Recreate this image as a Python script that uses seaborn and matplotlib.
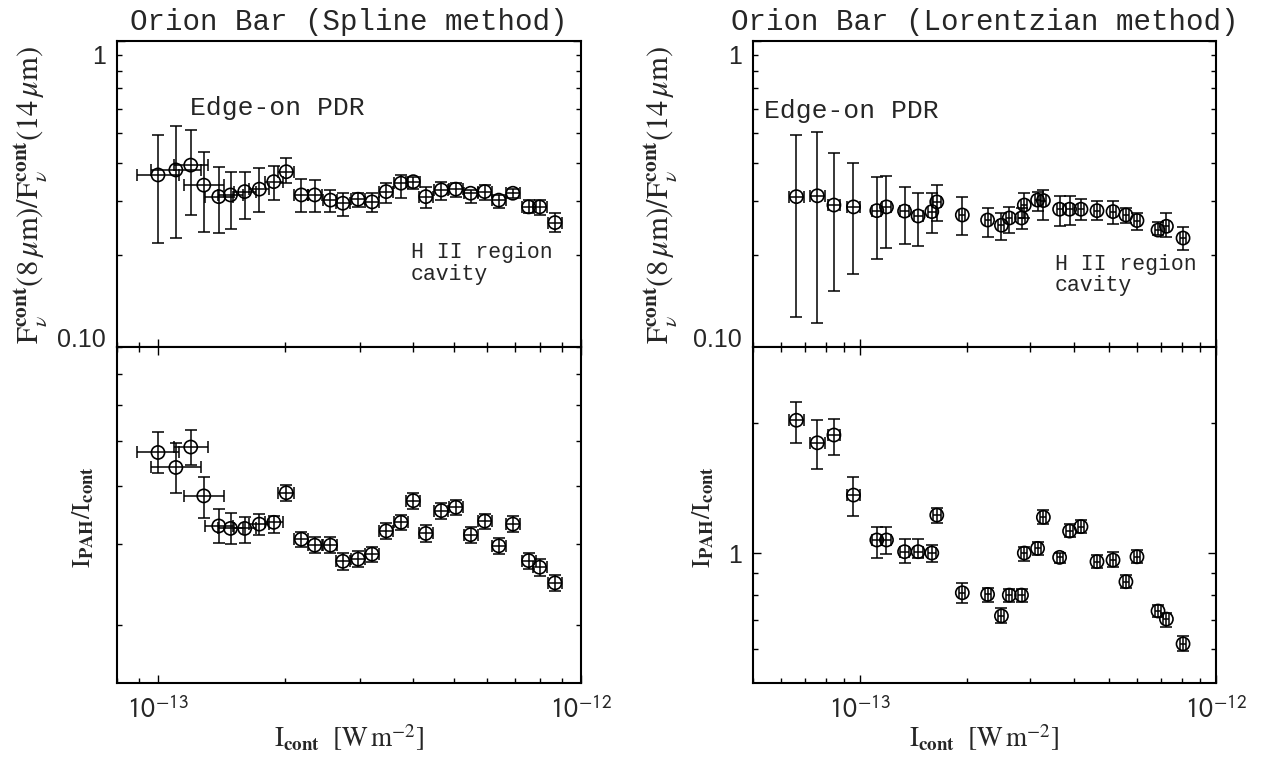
import numpy as np
import matplotlib
matplotlib.use("Agg")
import matplotlib.pyplot as plt
import seaborn as sns
from matplotlib.ticker import FixedLocator, FixedFormatter, NullFormatter
from matplotlib.transforms import ScaledTranslation

# ---------------- data ----------------
# Spline method
spline_icont = [1.000e-13, 1.102e-13, 1.195e-13, 1.283e-13, 1.392e-13, 1.484e-13,
                1.603e-13, 1.736e-13, 1.878e-13, 2.010e-13, 2.182e-13, 2.347e-13,
                2.557e-13, 2.735e-13, 2.971e-13, 3.206e-13, 3.463e-13, 3.754e-13,
                4.013e-13, 4.297e-13, 4.675e-13, 5.058e-13, 5.482e-13, 5.920e-13,
                6.392e-13, 6.900e-13, 7.520e-13, 7.980e-13, 8.680e-13]
spline_xerr_frac = [0.121, 0.146, 0.097, 0.115, 0.079, 0.068, 0.062, 0.056, 0.050, 0.045,
                    0.039, 0.039, 0.039, 0.039, 0.039, 0.039, 0.039, 0.039, 0.039, 0.039,
                    0.039, 0.039, 0.039, 0.039, 0.039, 0.039, 0.039, 0.039, 0.039]
spline_ratio = [0.365, 0.379, 0.393, 0.338, 0.310, 0.314, 0.322, 0.328, 0.347, 0.374,
                0.314, 0.314, 0.302, 0.295, 0.304, 0.298, 0.322, 0.343, 0.347, 0.310,
                0.326, 0.328, 0.318, 0.322, 0.302, 0.318, 0.287, 0.287, 0.255]
spline_ratio_lo = [0.219, 0.227, 0.270, 0.238, 0.236, 0.243, 0.262, 0.276, 0.302, 0.344,
                   0.276, 0.277, 0.277, 0.267, 0.287, 0.277, 0.296, 0.307, 0.328, 0.285,
                   0.302, 0.310, 0.295, 0.302, 0.284, 0.306, 0.274, 0.270, 0.238]
spline_ratio_hi = [0.493, 0.527, 0.511, 0.433, 0.387, 0.372, 0.374, 0.385, 0.391, 0.415,
                   0.354, 0.351, 0.326, 0.319, 0.319, 0.319, 0.344, 0.365, 0.360, 0.334,
                   0.347, 0.343, 0.326, 0.338, 0.314, 0.328, 0.302, 0.302, 0.274]
spline_pah = [4.73, 4.39, 4.86, 3.81, 3.28, 3.24, 3.24, 3.31, 3.34, 3.87,
              3.07, 2.98, 2.98, 2.75, 2.78, 2.85, 3.20, 3.34, 3.72, 3.16,
              3.54, 3.60, 3.14, 3.36, 2.97, 3.31, 2.76, 2.67, 2.47]
spline_pah_lo = [4.26, 3.87, 4.44, 3.41, 3.01, 3.00, 3.01, 3.14, 3.17, 3.72,
                 2.95, 2.86, 2.86, 2.64, 2.67, 2.74, 3.07, 3.21, 3.57, 3.03,
                 3.40, 3.46, 3.01, 3.23, 2.85, 3.18, 2.65, 2.56, 2.37]
spline_pah_hi = [5.25, 4.97, 5.29, 4.19, 3.57, 3.50, 3.43, 3.48, 3.45, 4.02,
                 3.19, 3.10, 3.10, 2.86, 2.89, 2.96, 3.33, 3.47, 3.87, 3.29,
                 3.68, 3.74, 3.27, 3.49, 3.09, 3.44, 2.87, 2.78, 2.57]

# Lorentzian method
lor_icont = [6.62e-14, 7.58e-14, 8.44e-14, 9.58e-14, 1.114e-13, 1.186e-13, 1.333e-13,
             1.455e-13, 1.590e-13, 1.642e-13, 1.937e-13, 2.281e-13, 2.495e-13, 2.625e-13,
             2.841e-13, 2.893e-13, 3.152e-13, 3.273e-13, 3.635e-13, 3.877e-13, 4.174e-13,
             4.630e-13, 5.136e-13, 5.583e-13, 5.997e-13, 6.872e-13, 7.256e-13, 8.080e-13]
lor_xerr_frac = [0.05, 0.05, 0.04, 0.04, 0.03, 0.03, 0.03, 0.03, 0.025, 0.025,
                 0.02, 0.02, 0.02, 0.02, 0.02, 0.02, 0.02, 0.02, 0.02, 0.02,
                 0.02, 0.02, 0.02, 0.02, 0.02, 0.02, 0.02, 0.02]
lor_ratio = [0.310, 0.312, 0.291, 0.287, 0.279, 0.287, 0.278, 0.268, 0.277, 0.298,
             0.270, 0.260, 0.250, 0.264, 0.264, 0.291, 0.302, 0.301, 0.282, 0.282,
             0.282, 0.279, 0.277, 0.270, 0.259, 0.241, 0.248, 0.227]
lor_ratio_lo = [0.125, 0.120, 0.152, 0.173, 0.194, 0.210, 0.217, 0.214, 0.235, 0.258,
                0.232, 0.229, 0.224, 0.236, 0.243, 0.264, 0.279, 0.260, 0.248, 0.250,
                0.260, 0.260, 0.252, 0.254, 0.241, 0.232, 0.229, 0.208]
lor_ratio_hi = [0.493, 0.503, 0.430, 0.398, 0.360, 0.363, 0.334, 0.318, 0.319, 0.338,
                0.310, 0.285, 0.275, 0.286, 0.284, 0.319, 0.322, 0.326, 0.312, 0.312,
                0.305, 0.300, 0.300, 0.285, 0.274, 0.257, 0.275, 0.247]
lor_pah = [2.03, 1.80, 1.876, 1.362, 1.072, 1.072, 1.007, 1.007, 1.000, 1.224,
           0.809, 0.802, 0.715, 0.799, 0.799, 1.000, 1.025, 1.210, 0.977, 1.124,
           1.151, 0.955, 0.963, 0.858, 0.980, 0.734, 0.703, 0.616]
lor_pah_lo = [1.795, 1.563, 1.686, 1.218, 0.972, 0.995, 0.946, 0.972, 0.955, 1.175,
              0.767, 0.771, 0.690, 0.771, 0.771, 0.960, 0.989, 1.167, 0.946, 1.087,
              1.111, 0.922, 0.930, 0.829, 0.946, 0.712, 0.675, 0.594]
lor_pah_hi = [2.24, 2.03, 2.04, 1.497, 1.147, 1.147, 1.076, 1.076, 1.043, 1.269,
              0.851, 0.829, 0.745, 0.824, 0.824, 1.034, 1.062, 1.257, 1.002, 1.167,
              1.192, 0.989, 1.007, 0.889, 1.016, 0.758, 0.727, 0.642]

titles = ["Orion Bar (Spline method)", "Orion Bar (Lorentzian method)"]
x_major = [1e-13, 1e-12]
x_major_labels = [r"$\mathsf{10}^{\mathsf{-13}}$", r"$\mathsf{10}^{\mathsf{-12}}$"]
ratio_major = [0.1, 1.0]
ratio_major_labels = ["0.10", "1"]
ratio_minor = [0.2, 0.3, 0.4, 0.5, 0.6, 0.7, 0.8, 0.9]
spline_pah_minor = [2, 3, 4, 5, 6, 7, 8]
lor_pah_major = [1.0]
lor_pah_major_labels = ["1"]
lor_pah_minor = [0.6, 0.7, 0.8, 0.9, 2.0]

# ---------------- style ----------------
sns.set_theme(style="white")
plt.rcParams["font.family"] = ["Liberation Serif", "DejaVu Serif"]
plt.rcParams["mathtext.fontset"] = "stix"
plt.rcParams["axes.edgecolor"] = "black"
plt.rcParams["axes.linewidth"] = 1.5

W, H = 1261, 759
fig = plt.figure(figsize=(W / 100, H / 100), dpi=100)
fig.patch.set_facecolor("white")


def rect(x0, x1, ytop, ybot):
    return [x0 / W, 1 - ybot / H, (x1 - x0) / W, (ybot - ytop) / H]


panels = {
    "spline": dict(x0=117, x1=581, xlim=(8e-14, 1e-12)),
    "lor": dict(x0=753, x1=1216, xlim=(5e-14, 1e-12)),
}


def x_minor(xlim):
    vals = []
    for dec in (1e-14, 1e-13):
        for k in range(2, 10):
            v = k * dec
            if xlim[0] <= v <= xlim[1]:
                vals.append(v)
    return vals


def draw_points(ax, x, y, lo, hi, xfrac):
    x = np.asarray(x); y = np.asarray(y)
    lo = np.asarray(lo); hi = np.asarray(hi); f = np.asarray(xfrac)
    ax.errorbar(x, y, xerr=[x - x / (1 + f), x * f], yerr=[y - lo, hi - y],
                fmt="none", ecolor="black", elinewidth=1.1, capsize=4.5,
                capthick=1.1, zorder=2)
    sns.scatterplot(x=x, y=y, ax=ax, marker="o", s=90, facecolor="none",
                    edgecolor="black", linewidth=1.2, zorder=3, legend=False)


def style_axis(ax, xlim, ylim, top_panel):
    ax.set_xscale("log"); ax.set_yscale("log")
    ax.set_xlim(*xlim); ax.set_ylim(*ylim)
    ax.set_facecolor("white")
    ax.grid(False)
    for s in ax.spines.values():
        s.set_visible(True); s.set_color("black"); s.set_linewidth(1.5)
    ax.xaxis.set_major_locator(FixedLocator(x_major))
    ax.xaxis.set_minor_locator(FixedLocator(x_minor(xlim)))
    ax.xaxis.set_minor_formatter(NullFormatter())
    if top_panel:
        ax.xaxis.set_major_formatter(NullFormatter())
        ax.tick_params(axis="x", which="both", direction="in", bottom=True, top=False,
                       labelbottom=False)
    else:
        ax.xaxis.set_major_formatter(FixedFormatter(x_major_labels))
        ax.tick_params(axis="x", which="both", direction="in", bottom=True, top=True,
                       labelsize=20, pad=10)
    ax.tick_params(axis="y", which="both", direction="in", left=True, right=True,
                   labelsize=18, pad=8, labelfontfamily="Liberation Sans")
    ax.tick_params(which="major", length=6, width=1.0, color="black")
    ax.tick_params(which="minor", length=3.5, width=1.0, color="black")
    ax.set_xlabel(""); ax.set_ylabel("")


ylab_top = (r"$\mathrm{F}_{\nu}^{\mathbf{cont}}(8\,\mu\mathrm{m})/"
            r"\mathrm{F}_{\nu}^{\mathbf{cont}}(14\,\mu\mathrm{m})$")
ylab_bot = r"$\mathrm{I}_{\mathbf{PAH}}/\mathrm{I}_{\mathbf{cont}}$"
xlab = r"$\mathrm{I}_{\mathbf{cont}}\ \ [\mathrm{W\,m}^{-2}]$"

sets = [
    ("spline", spline_icont, spline_xerr_frac, spline_ratio, spline_ratio_lo, spline_ratio_hi,
     spline_pah, spline_pah_lo, spline_pah_hi, (1.5, 8.0)),
    ("lor", lor_icont, lor_xerr_frac, lor_ratio, lor_ratio_lo, lor_ratio_hi,
     lor_pah, lor_pah_lo, lor_pah_hi, (0.5, 3.0)),
]

mono = ["Liberation Mono", "DejaVu Sans Mono"]

for i, (key, xv, xf, r, rlo, rhi, p, plo, phi, pylim) in enumerate(sets):
    pp = panels[key]
    ax_t = fig.add_axes(rect(pp["x0"], pp["x1"], 41, 347))
    ax_b = fig.add_axes(rect(pp["x0"], pp["x1"], 347, 683))

    draw_points(ax_t, xv, r, rlo, rhi, xf)
    draw_points(ax_b, xv, p, plo, phi, xf)

    style_axis(ax_t, pp["xlim"], (0.1, 1.0), True)
    style_axis(ax_b, pp["xlim"], pylim, False)

    # y ticks top panel
    ax_t.yaxis.set_major_locator(FixedLocator(ratio_major))
    ax_t.yaxis.set_major_formatter(FixedFormatter(ratio_major_labels))
    ax_t.yaxis.set_minor_locator(FixedLocator(ratio_minor))
    ax_t.yaxis.set_minor_formatter(NullFormatter())
    labs = ax_t.get_yticklabels()
    labs[0].set_verticalalignment("baseline")
    labs[1].set_verticalalignment("top")
    labs[1].set_transform(labs[1].get_transform()
                          + ScaledTranslation(0, -0.04, fig.dpi_scale_trans))

    # y ticks bottom panel
    if key == "spline":
        ax_b.yaxis.set_major_locator(FixedLocator([]))
        ax_b.yaxis.set_minor_locator(FixedLocator(spline_pah_minor))
    else:
        ax_b.yaxis.set_major_locator(FixedLocator(lor_pah_major))
        ax_b.yaxis.set_major_formatter(FixedFormatter(lor_pah_major_labels))
        ax_b.yaxis.set_minor_locator(FixedLocator(lor_pah_minor))
    ax_b.yaxis.set_minor_formatter(NullFormatter())

    cx = (pp["x0"] + pp["x1"]) / 2
    fig.text(cx / W, 1 - 22 / H, titles[i], ha="center", va="center",
             family=mono, fontsize=21)
    fig.text(cx / W, 1 - 738 / H, xlab, ha="center", va="center", fontsize=19.5)

    ylt_x = 30 if key == "spline" else 660
    ylb_x = 83 if key == "spline" else 703
    fig.text(ylt_x / W, 1 - 195 / H, ylab_top, rotation=90, ha="center", va="center",
             fontsize=22)
    fig.text(ylb_x / W, 1 - 517 / H, ylab_bot, rotation=90, ha="center", va="center",
             fontsize=19)

    if key == "spline":
        fig.text(190 / W, 1 - 115 / H, "Edge-on PDR", ha="left", va="baseline",
                 family=mono, fontsize=19)
        fig.text(411 / W, 1 - 258 / H, "H II region", ha="left", va="baseline",
                 family=mono, fontsize=15.5)
        fig.text(411 / W, 1 - 280 / H, "cavity", ha="left", va="baseline",
                 family=mono, fontsize=15.5)
    else:
        fig.text(764 / W, 1 - 118 / H, "Edge-on PDR", ha="left", va="baseline",
                 family=mono, fontsize=19)
        fig.text(1055 / W, 1 - 270 / H, "H II region", ha="left", va="baseline",
                 family=mono, fontsize=15.5)
        fig.text(1055 / W, 1 - 291 / H, "cavity", ha="left", va="baseline",
                 family=mono, fontsize=15.5)

fig.savefig("out.png", dpi=100, facecolor="white")
